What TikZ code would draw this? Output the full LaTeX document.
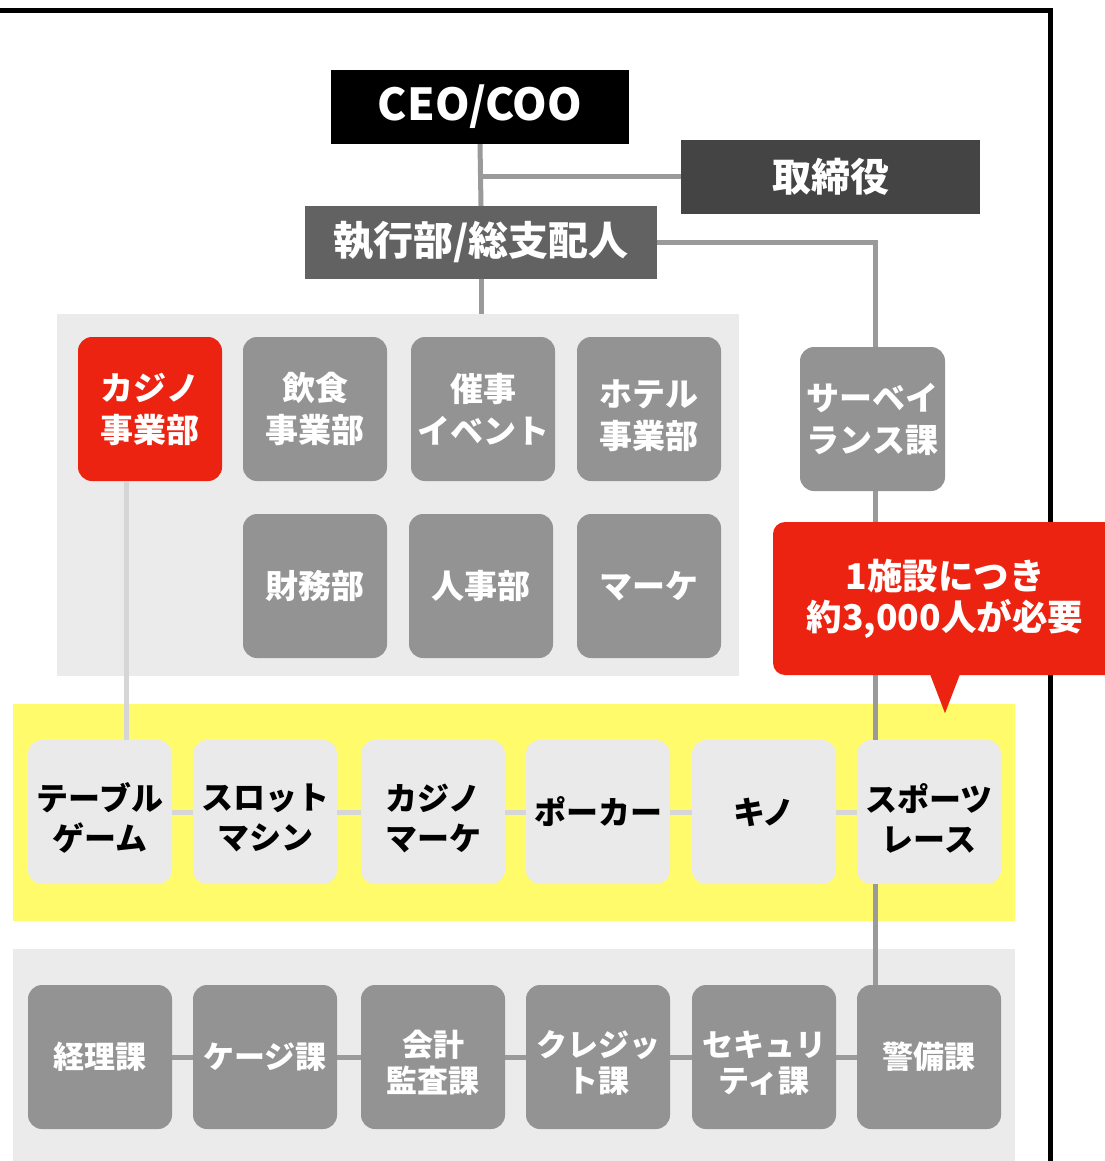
\documentclass[tikz,border=0pt]{standalone}
\usepackage{fontspec}
\setmainfont{Noto Sans CJK JP}
\definecolor{boxgray}{HTML}{939393}
\definecolor{panelgray}{HTML}{EBEBEB}
\definecolor{lightbox}{HTML}{EAEAEA}
\definecolor{linegray}{HTML}{9A9A9A}
\definecolor{lightline}{HTML}{D6D6D6}
\definecolor{redfill}{HTML}{EC2310}
\definecolor{yellowfill}{HTML}{FFFB6A}
\definecolor{darkA}{HTML}{444444}
\definecolor{darkB}{HTML}{626262}
\begin{document}
\begin{tikzpicture}[x=1pt,y=-1pt,
  unit/.style={rounded corners=14pt, minimum width=144pt, minimum height=144pt, inner sep=0pt, align=center, text=white, fill=boxgray, font=\fontsize{33}{42}\selectfont\bfseries},
  redunit/.style={unit, fill=redfill},
  yunit/.style={unit, fill=lightbox, text=black, font=\fontsize{32}{40}\selectfont\bfseries},
  bunit/.style={unit, font=\fontsize{31}{36}\selectfont\bfseries},
  wtext/.style={inner sep=0pt, align=center, text=white, font=\fontsize{33}{42}\selectfont\bfseries},
  ytext/.style={inner sep=0pt, align=center, text=black, font=\fontsize{32}{40}\selectfont\bfseries},
  btext/.style={inner sep=0pt, align=center, text=white, font=\fontsize{31}{36}\selectfont\bfseries},
  panel/.style={inner sep=0pt, fill=#1},
  title/.style={inner sep=0pt, text=white, font=\fontsize{39}{44}\selectfont\bfseries},
  gline/.style={draw=linegray, line width=5pt},
  lline/.style={draw=lightline, line width=5pt}]
\useasboundingbox (0,0) rectangle (1104,1161);
\fill[white] (0,0) rectangle (1104,1161);
% frame
\draw[line width=5pt, line join=miter] (0,10.5) -- (1050.8,10.5) -- (1050.8,1175);
% panels
\node[panel=panelgray, minimum width=682pt, minimum height=362pt] (p1) at (398,495) {};
\node[panel=yellowfill, minimum width=1002pt, minimum height=217pt] (py) at (514,812.5) {};
\node[panel=panelgray, minimum width=1002pt, minimum height=230pt] (pb) at (514,1064) {};
% top nodes
\node[title, fill=black, minimum width=298pt, minimum height=74pt, font=\fontsize{44}{50}\selectfont\bfseries] (ceo) at (480,107) {CEO/COO};
\node[title, fill=darkA, minimum width=299pt, minimum height=74pt] (tori) at (830.5,177) {取締役};
\node[title, fill=darkB, minimum width=352pt, minimum height=73pt, font=\fontsize{40}{44}\selectfont\bfseries] (exec) at (481,242.5) {執行部/総支配人};
% connectors top
\draw[gline] (ceo.south) -- (exec.north);
\draw[gline] (ceo.south |- tori.west) -- (tori.west);
\draw[gline] (exec.south) -- (exec.south |- p1.north);
% panel 1 boxes
\node[redunit] (cas) at (150,409) {カジノ\\事業部};
\node[unit] (food) at (315,409) {飲食\\事業部};
\node[unit] (event) at (483,409) {催事\\イベント};
\node[unit] (hotel) at (649,409) {};
\node[wtext] (hotelT) at ([yshift=-7pt]hotel.center) {ホテル\\事業部};
\node[unit] (fin) at (315,586) {財務部};
\node[unit] (hr) at (481,586) {人事部};
\node[unit] (mkt) at (649,586) {マーケ};
\node[unit, minimum width=145pt] (surv) at (872.5,419) {サーベイ\\ランス課};
\draw[gline] (exec.east) -| ([xshift=2.5pt]surv.north);
% yellow row
\node[yunit] (table) at (100,812) {};
\node[ytext] (tableT) at ([yshift=-6pt]table.center) {テーブル\\ゲーム};
\node[yunit] (slot) at (265,812) {};
\node[ytext] (slotT) at ([yshift=-6pt]slot.center) {スロット\\マシン};
\node[yunit] (cmkt) at (433,812) {};
\node[ytext] (cmktT) at ([yshift=-6pt]cmkt.center) {カジノ\\マーケ};
\node[yunit] (poker) at (598,812) {ポーカー};
\node[yunit] (keno) at (764,812) {キノ};
\node[yunit] (sport) at (929,812) {};
\node[ytext] (sportT) at ([yshift=-6pt]sport.center) {スポーツ\\レース};
% bottom row
\node[bunit] (acct) at (100,1057) {経理課};
\node[bunit] (cage) at (265,1057) {ケージ課};
\node[bunit] (audit) at (433,1057) {};
\node[btext] (auditT) at ([yshift=-6pt]audit.center) {会計\\監査課};
\node[bunit] (credit) at (598,1057) {};
\node[btext] (creditT) at ([yshift=-6pt]credit.center) {クレジッ\\ト課};
\node[bunit] (sec) at (764,1057) {};
\node[btext] (secT) at ([yshift=-6pt]sec.center) {セキュリ\\ティ課};
\node[bunit] (guard) at (929,1057) {警備課};
% connectors lower
\draw[lline] ([xshift=-24pt]cas.south) -- ([xshift=-24pt]cas.south |- table.north);
\foreach \a/\b in {table/slot, slot/cmkt, cmkt/poker, poker/keno, keno/sport}
  \draw[lline] (\a.east) -- (\b.west);
\foreach \a/\b in {acct/cage, cage/audit, audit/credit, credit/sec, sec/guard}
  \draw[gline] (\a.east) -- (\b.west);
\draw[gline] ([xshift=2.5pt]surv.south) -- ([xshift=2.5pt]surv.south |- sport.north);
\draw[gline] ([xshift=2.5pt]surv.south |- sport.south) -- ([xshift=2.5pt]surv.south |- guard.north);
% callout
\node[rounded corners=12pt, fill=redfill, minimum width=344pt, minimum height=153pt, inner sep=0pt, align=center, text=white, font=\fontsize{35.5}{41}\selectfont\bfseries] (call) at (945,598.5) {1施設につき\\約3,000人が必要};
\fill[redfill] ([xshift=-15pt,yshift=1pt]call.south) -- ([yshift=-38pt]call.south) -- ([xshift=15pt,yshift=1pt]call.south) -- cycle;
\end{tikzpicture}
\end{document}
